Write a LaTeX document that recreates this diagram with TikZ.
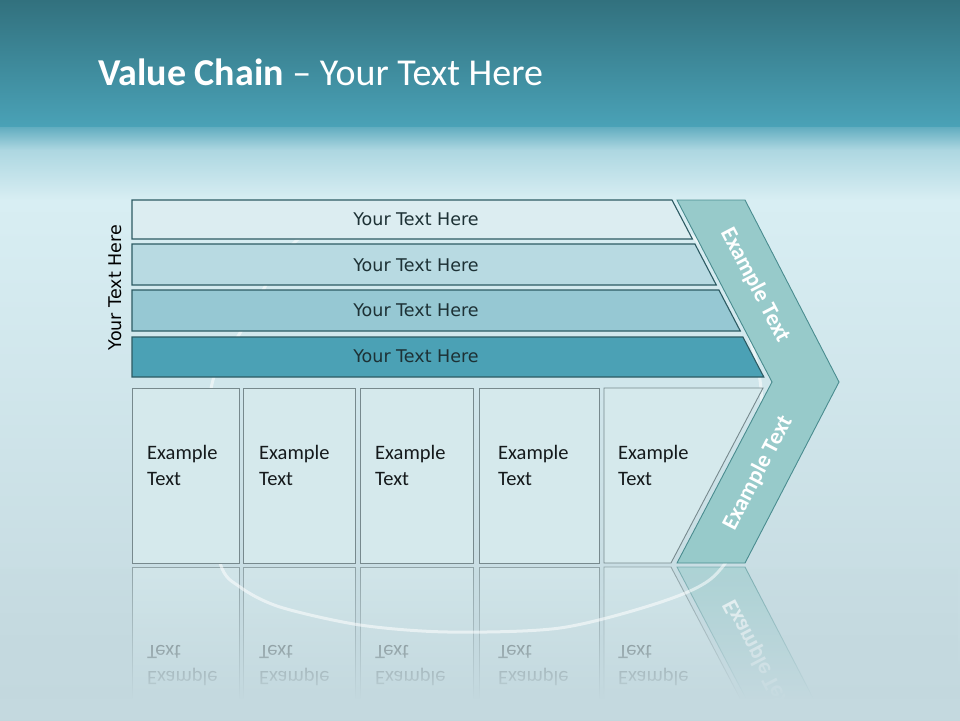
\documentclass[tikz,border=0pt]{standalone}
\usepackage{fontspec}
\setmainfont{Carlito}
\newfontfamily\verd{DejaVu Sans}
\usetikzlibrary{fadings}
\definecolor{hdtop}{HTML}{32717E}
\definecolor{hdbot}{HTML}{4AA2B7}
\definecolor{trA}{HTML}{62ADC0}
\definecolor{trB}{HTML}{ADD7E1}
\definecolor{bgA}{HTML}{D8EEF3}
\definecolor{bgB}{HTML}{C2D7DD}
\definecolor{bgC}{HTML}{C4D9DF}
\definecolor{barA}{HTML}{DCEDF1}
\definecolor{barB}{HTML}{B8DAE2}
\definecolor{barC}{HTML}{96C8D3}
\definecolor{barD}{HTML}{4BA1B5}
\definecolor{barline}{HTML}{2D5B63}
\definecolor{bartext}{HTML}{1D3135}
\definecolor{boxfill}{HTML}{D5E9EC}
\definecolor{boxline}{HTML}{77898D}
\definecolor{boxtext}{HTML}{151A1C}
\definecolor{chevfill}{HTML}{97CACA}
\definecolor{chevline}{HTML}{4A8C8F}
\tikzfading[name=fadedown, top color=transparent!100, bottom color=transparent!0]
\begin{document}
\begin{tikzpicture}[x=1pt,y=-1pt,
  barshape/.style={draw=barline, line width=1.1pt},
  exbox/.style={fill=boxfill, draw=boxline, line width=0.9pt},
  chevshape/.style={fill=chevfill, draw=chevline, line width=0.9pt},
  bartxt/.style={font=\verd\fontsize{17.5}{20}\selectfont, text=bartext, inner sep=0pt},
  boxtxt/.style={font=\fontsize{20.5}{24}\selectfont, text=boxtext, anchor=base west, inner sep=0pt},
  chevtxt/.style={font=\bfseries\fontsize{23}{27}\selectfont, text=white, inner sep=0pt},
  ring/.style={draw=white, line width=3pt, opacity=0.55}]
\useasboundingbox (0,0) rectangle (960,720);
% background
\shade[top color=hdtop, bottom color=hdbot] (0,0) rectangle (960,127);
\shade[top color=trA, bottom color=trB] (0,127) rectangle (960,150);
\shade[top color=trB, bottom color=bgA] (0,150) rectangle (960,200);
\shade[top color=bgA, bottom color=bgB] (0,200) rectangle (960,720);
% reflection
\begin{scope}
\clip (0,565) rectangle (960,700);
\begin{scope}[shift={(0,1130)}, yscale=-1, transform shape]
  \begin{scope}[opacity=0.7]
  \draw[exbox] (132,388) rectangle (239,563);
  \draw[exbox] (243,388) rectangle (355,563);
  \draw[exbox] (360,388) rectangle (473,563);
  \draw[exbox] (479,388) rectangle (599,563);
  \draw[exbox] (604,388) -- (763,388) -- (671,563) -- (604,563) -- cycle;
  \end{scope}
  \draw[chevshape, opacity=0.55] (677,200) -- (745,200) -- (839,382) -- (745,563) -- (677,563) -- (772,382) -- cycle;
  \node[boxtxt, opacity=0.7] (r1a) at (147,459) {Example};
  \node[boxtxt, opacity=0.7] (r1b) at (147,485) {Text};
  \node[boxtxt, opacity=0.7] (r2a) at (259,459) {Example};
  \node[boxtxt, opacity=0.7] (r2b) at (259,485) {Text};
  \node[boxtxt, opacity=0.7] (r3a) at (375,459) {Example};
  \node[boxtxt, opacity=0.7] (r3b) at (375,485) {Text};
  \node[boxtxt, opacity=0.7] (r4a) at (498,459) {Example};
  \node[boxtxt, opacity=0.7] (r4b) at (498,485) {Text};
  \node[boxtxt, opacity=0.7] (r5a) at (618,459) {Example};
  \node[boxtxt, opacity=0.7] (r5b) at (618,485) {Text};
  \node[chevtxt, rotate=62.4, opacity=0.8] (rc2) at (758,473) {Example Text};
\end{scope}
\end{scope}
\fill[bgC, path fading=fadedown] (0,568) rectangle (960,700);
\fill[bgC] (0,699) rectangle (960,720);
% decorative ring
\draw[ring] plot[smooth cycle] coordinates {(480,206) (380,210) (297,240) (240,333) (213,380) (203,470) (220,563) (240,587) (280,607) (360,625) (448,632) (560,628) (658,603) (712,578) (745,530) (760,470) (760,380) (735,300) (690,235) (600,210)};
% title
\node[anchor=base west, inner sep=0pt, text=white, font=\fontsize{38}{42}\selectfont] (title) at (98,85) {\textbf{Value Chain} – Your Text Here};
% bars
\draw[barshape, fill=barA] (132,200) -- (672,200) -- (692.4,239) -- (132,239) -- cycle;
\draw[barshape, fill=barB] (132,244) -- (694.9,244) -- (716.3,285) -- (132,285) -- cycle;
\draw[barshape, fill=barC] (132,290) -- (718.9,290) -- (740.3,331) -- (132,331) -- cycle;
\draw[barshape, fill=barD] (132,337) -- (742.9,337) -- (763.8,377) -- (132,377) -- cycle;
\node[bartxt] (t1) at (416,219) {Your Text Here};
\node[bartxt] (t2) at (416,265) {Your Text Here};
\node[bartxt] (t3) at (416,310.5) {Your Text Here};
\node[bartxt] (t4) at (416,356.5) {Your Text Here};
\node[bartxt, text=black, rotate=90] (side) at (115,287.5) {Your Text Here};
% boxes
\draw[exbox] (132,388) rectangle (239,563);
\draw[exbox] (243,388) rectangle (355,563);
\draw[exbox] (360,388) rectangle (473,563);
\draw[exbox] (479,388) rectangle (599,563);
\draw[exbox] (604,388) -- (763,388) -- (671,563) -- (604,563) -- cycle;
\node[boxtxt] (b1a) at (147,459) {Example};
\node[boxtxt] (b1b) at (147,485) {Text};
\node[boxtxt] (b2a) at (259,459) {Example};
\node[boxtxt] (b2b) at (259,485) {Text};
\node[boxtxt] (b3a) at (375,459) {Example};
\node[boxtxt] (b3b) at (375,485) {Text};
\node[boxtxt] (b4a) at (498,459) {Example};
\node[boxtxt] (b4b) at (498,485) {Text};
\node[boxtxt] (b5a) at (618,459) {Example};
\node[boxtxt] (b5b) at (618,485) {Text};
% chevron
\draw[chevshape] (677,200) -- (745,200) -- (839,382) -- (745,563) -- (677,563) -- (772,382) -- cycle;
\node[chevtxt, rotate=-62.4] (c1) at (755,285) {Example Text};
\node[chevtxt, rotate=62.4] (c2) at (758,473) {Example Text};
\end{tikzpicture}
\end{document}
